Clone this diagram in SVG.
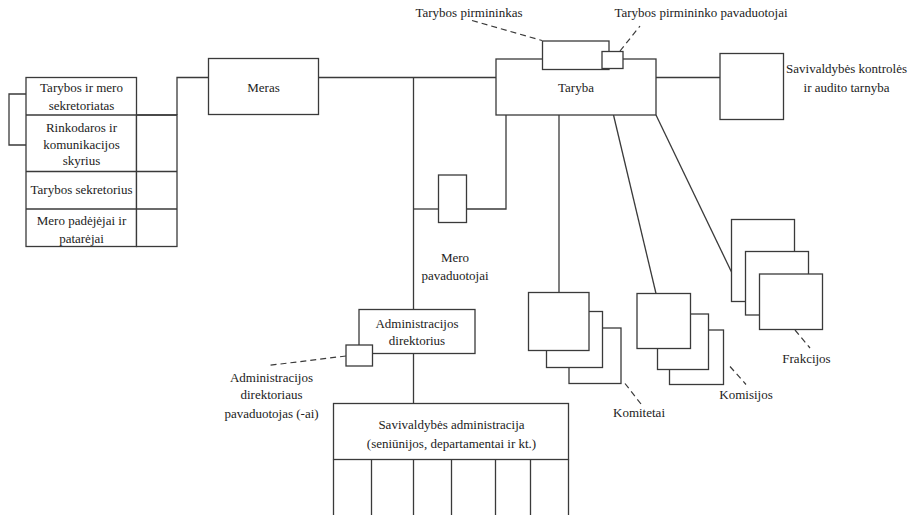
<svg xmlns="http://www.w3.org/2000/svg" width="917" height="515" viewBox="0 0 917 515">
  <style>
    .box { fill: #ffffff; stroke: #3a3a3a; stroke-width: 1.3; }
    .ln { fill: none; stroke: #3a3a3a; stroke-width: 1.3; }
    .dash { fill: none; stroke: #3a3a3a; stroke-width: 1.2; stroke-dasharray: 6 4; }
    text { font-family: "Liberation Serif", "Times New Roman", serif; font-size: 13px; fill: #222; text-anchor: middle; }
  </style>
  <rect width="917" height="515" fill="#ffffff"/>

  <!-- connectors -->
  <g id="connectors">
    <polyline class="ln" points="177,115 177,77.5 208,77.5"/>
    <line class="ln" x1="318" y1="77.5" x2="496" y2="77.5"/>
    <line class="ln" x1="413.5" y1="77.5" x2="413.5" y2="309.5"/>
    <line class="ln" x1="413.5" y1="209" x2="438.5" y2="209"/>
    <polyline class="ln" points="466.5,209 506,209 506,115"/>
    <line class="ln" x1="656" y1="77.5" x2="720" y2="77.5"/>
    <line class="ln" x1="559" y1="115" x2="559" y2="292.5"/>
    <line class="ln" x1="613.5" y1="115" x2="656" y2="293.5"/>
    <line class="ln" x1="656" y1="115" x2="731.5" y2="272"/>
    <line class="ln" x1="413.5" y1="353.5" x2="413.5" y2="403.5"/>
    <line class="dash" x1="472" y1="20.5" x2="542" y2="40.5"/>
    <line class="dash" x1="620" y1="51" x2="640" y2="26"/>
    <line class="dash" x1="346" y1="356" x2="268" y2="365.5"/>
    <line class="dash" x1="625" y1="383.5" x2="641" y2="404"/>
    <line class="dash" x1="730" y1="366.5" x2="746" y2="384.5"/>
    <line class="dash" x1="795" y1="330" x2="810" y2="348"/>
  </g>

  <!-- staff units next to the mayor -->
  <g id="mero-aparatas">
    <polyline class="ln" points="26,94 9,94 9,145 26,145"/>
    <rect class="box" x="26" y="77.5" width="110.5" height="169"/>
    <rect class="box" x="136.5" y="115" width="40.5" height="131.5"/>
    <line class="ln" x1="26" y1="115" x2="177" y2="115"/>
    <line class="ln" x1="26" y1="171.5" x2="177" y2="171.5"/>
    <line class="ln" x1="26" y1="209" x2="177" y2="209"/>
    <text x="81.5" y="91.5">Tarybos ir mero</text>
    <text x="81.5" y="110">sekretoriatas</text>
    <text x="81.5" y="131.5">Rinkodaros ir</text>
    <text x="81.5" y="148.5">komunikacijos</text>
    <text x="81.5" y="165">skyrius</text>
    <text x="81.5" y="193.5">Tarybos sekretorius</text>
    <text x="81.5" y="225">Mero padėjėjai ir</text>
    <text x="81.5" y="242.5">patarėjai</text>
  </g>

  <g id="meras">
    <rect class="box" x="208.5" y="58.5" width="110" height="56"/>
    <text x="263.5" y="92">Meras</text>
  </g>

  <g id="taryba">
    <rect class="box" x="496" y="59" width="160" height="56"/>
    <text x="576" y="91.5">Taryba</text>
  </g>

  <g id="tarybos-pirmininkas">
    <rect class="box" x="542.5" y="41" width="66.5" height="28.5"/>
    <text x="469" y="17">Tarybos pirmininkas</text>
  </g>

  <g id="tarybos-pirmininko-pavaduotojai">
    <rect class="box" x="602" y="51.5" width="21" height="17"/>
    <text x="701" y="17">Tarybos pirmininko pavaduotojai</text>
  </g>

  <g id="kontroles-tarnyba">
    <rect class="box" x="720" y="53.5" width="63.5" height="66"/>
    <text x="846.5" y="73">Savivaldybės kontrolės</text>
    <text x="846.5" y="91.5">ir audito tarnyba</text>
  </g>

  <g id="mero-pavaduotojai">
    <rect class="box" x="438.5" y="175" width="28" height="47.5"/>
    <text x="455" y="261.5">Mero</text>
    <text x="455" y="280">pavaduotojai</text>
  </g>

  <g id="komitetai">
    <rect class="box" x="569" y="328" width="52" height="55.5"/>
    <rect class="box" x="546.5" y="311.5" width="56" height="56"/>
    <rect class="box" x="528.5" y="292.5" width="60.5" height="58"/>
    <text x="639" y="416.5">Komitetai</text>
  </g>

  <g id="komisijos">
    <rect class="box" x="669.5" y="330" width="54" height="54.5"/>
    <rect class="box" x="657.5" y="314" width="51" height="55.5"/>
    <rect class="box" x="637" y="293.5" width="53.5" height="55"/>
    <text x="746" y="399">Komisijos</text>
  </g>

  <g id="frakcijos">
    <rect class="box" x="731.5" y="219.5" width="63" height="82"/>
    <rect class="box" x="745.5" y="251.5" width="63" height="63.5"/>
    <rect class="box" x="759.5" y="274" width="63" height="55.5"/>
    <text x="806.5" y="362.5">Frakcijos</text>
  </g>

  <g id="administracijos-direktorius">
    <rect class="box" x="359" y="309.5" width="116" height="44"/>
    <text x="417" y="328">Administracijos</text>
    <text x="417" y="345">direktorius</text>
  </g>

  <g id="direktoriaus-pavaduotojai">
    <rect class="box" x="346" y="345" width="26.5" height="21"/>
    <text x="271.5" y="381.5">Administracijos</text>
    <text x="271.5" y="399">direktoriaus</text>
    <text x="271.5" y="418">pavaduotojas (-ai)</text>
  </g>

  <g id="savivaldybes-administracija">
    <rect class="box" x="333.5" y="403.5" width="235" height="56"/>
    <polyline class="ln" points="333.5,459.5 333.5,516"/>
    <polyline class="ln" points="371.5,459.5 371.5,516"/>
    <polyline class="ln" points="413.5,459.5 413.5,516"/>
    <polyline class="ln" points="451.5,459.5 451.5,516"/>
    <polyline class="ln" points="495.5,459.5 495.5,516"/>
    <polyline class="ln" points="530.5,459.5 530.5,516"/>
    <polyline class="ln" points="568.5,459.5 568.5,516"/>
    <text x="451.5" y="428.5">Savivaldybės administracija</text>
    <text x="451.5" y="448">(seniūnijos, departamentai ir kt.)</text>
  </g>
</svg>
